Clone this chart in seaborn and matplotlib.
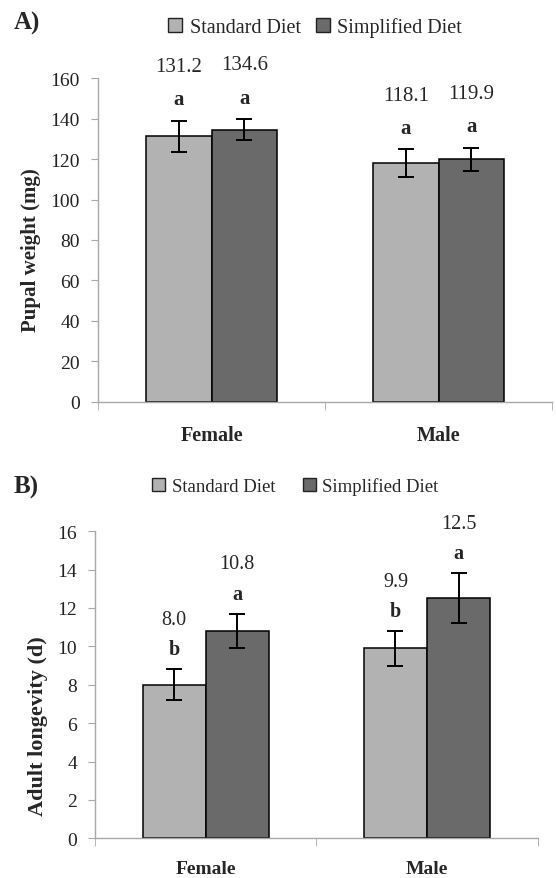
import numpy as np
import pandas as pd
import matplotlib
matplotlib.use("Agg")
import matplotlib.pyplot as plt
import seaborn as sns

# ─────────────────────────────────────────────
# Data
# ─────────────────────────────────────────────
SEXES = ["Female", "Male"]
DIETS = ["Standard Diet", "Simplified Diet"]

weight_std = [131.2, 118.1]
weight_simp = [134.6, 119.9]
weight_err_std = [7.7, 6.7]
weight_err_simp = [5.2, 5.7]
weight_let_std = ["a", "a"]
weight_let_simp = ["a", "a"]

long_std = [8.0, 9.9]
long_simp = [10.8, 12.5]
long_err_std = [0.8, 0.9]
long_err_simp = [0.9, 1.3]
long_let_std = ["b", "b"]
long_let_simp = ["a", "a"]

COLORS = ["#b2b2b2", "#6a6a6a"]
AXIS_GREY = "#a8a8a8"

sns.set_style("ticks")
plt.rcParams["font.family"] = ["Liberation Serif", "DejaVu Serif"]


def make_df(std, simp, err_std, err_simp, let_std, let_simp):
    rows = []
    for i, sex in enumerate(SEXES):
        rows.append((sex, DIETS[0], std[i], err_std[i], let_std[i]))
        rows.append((sex, DIETS[1], simp[i], err_simp[i], let_simp[i]))
    return pd.DataFrame(rows, columns=["sex", "diet", "value", "err", "letter"])


def draw_panel(ax, df, ymax, ystep, width, ylabel, fs, tick_fs, let_off,
               val_off, label_pad, ylabel_xy, ylabel_fs):
    sns.barplot(data=df, x="sex", y="value", hue="diet", order=SEXES,
                hue_order=DIETS, palette=COLORS, width=width, errorbar=None,
                edgecolor="black", linewidth=1.1, saturation=1, ax=ax)

    for cont, diet in zip(ax.containers, DIETS):
        sub = df[df["diet"] == diet].set_index("sex").loc[SEXES]
        xs = [b.get_x() + b.get_width() / 2 for b in cont]
        hs = [b.get_height() for b in cont]
        ax.errorbar(xs, hs, yerr=sub["err"].values, fmt="none",
                    ecolor="black", elinewidth=1.4, capsize=5.8,
                    capthick=1.4, zorder=5)
        for x, h, e, lt in zip(xs, hs, sub["err"].values, sub["letter"].values):
            ax.annotate(lt, xy=(x, h + e), xytext=(0, let_off),
                        textcoords="offset points", ha="center", va="center",
                        fontsize=fs, fontweight="bold")
            ax.annotate(f"{h:.1f}", xy=(x, h + e), xytext=(0, val_off),
                        textcoords="offset points", ha="center", va="center",
                        fontsize=fs)

    ax.set_ylim(0, ymax)
    ax.set_yticks(np.arange(0, ymax + ystep / 2, ystep))
    ax.set_xlim(-0.5, 1.5)
    ax.set_xticks([0, 1])
    ax.set_xticklabels(SEXES, fontweight="bold", fontsize=fs - 0.5)
    ax.set_xticks([-0.5, 0.5, 1.5], minor=True)
    ax.tick_params(axis="x", which="major", length=0, pad=label_pad)
    ax.tick_params(axis="x", which="minor", length=6, color=AXIS_GREY,
                   direction="out")
    ax.tick_params(axis="y", length=5, color=AXIS_GREY, direction="out",
                   labelsize=tick_fs, pad=8, labelcolor="#222222")
    ax.set_xlabel("")
    ax.set_ylabel(ylabel, fontweight="bold", fontsize=ylabel_fs, va="center")
    ax.yaxis.set_label_coords(*ylabel_xy)
    for side in ["top", "right"]:
        ax.spines[side].set_visible(False)
    for side in ["left", "bottom"]:
        ax.spines[side].set_color(AXIS_GREY)
        ax.spines[side].set_linewidth(1.0)
    if ax.get_legend() is not None:
        ax.get_legend().remove()


fig = plt.figure(figsize=(5.56, 8.79), dpi=100)
ax_a = fig.add_axes([0.1763, 0.5419, 0.8165, 0.3679])
ax_b = fig.add_axes([0.1709, 0.0452, 0.7962, 0.3493])

df_a = make_df(weight_std, weight_simp, weight_err_std, weight_err_simp,
               weight_let_std, weight_let_simp)
df_b = make_df(long_std, long_simp, long_err_std, long_err_simp,
               long_let_std, long_let_simp)

draw_panel(ax_a, df_a, 160, 20, 0.578, "Pupal weight (mg)", 15, 14, 15.5, 39,
           17, (-0.148, 0.473), 15)
draw_panel(ax_b, df_b, 16, 2, 0.57, "Adult longevity (d)", 14.5, 14, 14.5, 36,
           16, (-0.128, 0.369), 16)

# legends
for ax, (cx, cy), fs, cs in [(ax_a, (0.5665, 0.968), 14.5, 0.75),
                             (ax_b, (0.5315, 0.446), 13.5, 1.45)]:
    handles = [plt.Rectangle((0, 0), 1, 1, facecolor=c, edgecolor="#222222",
                             linewidth=1.0) for c in COLORS]
    ax.legend(handles, DIETS, loc="center", bbox_to_anchor=(cx, cy),
              bbox_transform=fig.transFigure, ncol=2, frameon=False,
              handlelength=0.7, handleheight=0.7, handletextpad=0.35,
              columnspacing=cs, fontsize=fs, borderaxespad=0, borderpad=0)

fig.text(14 / 556, 1 - 23 / 879, "A)", fontsize=18, fontweight="bold",
         ha="left", va="center")
fig.text(14 / 556, 1 - 487 / 879, "B)", fontsize=18, fontweight="bold",
         ha="left", va="center")

fig.savefig("out.png", dpi=100)
